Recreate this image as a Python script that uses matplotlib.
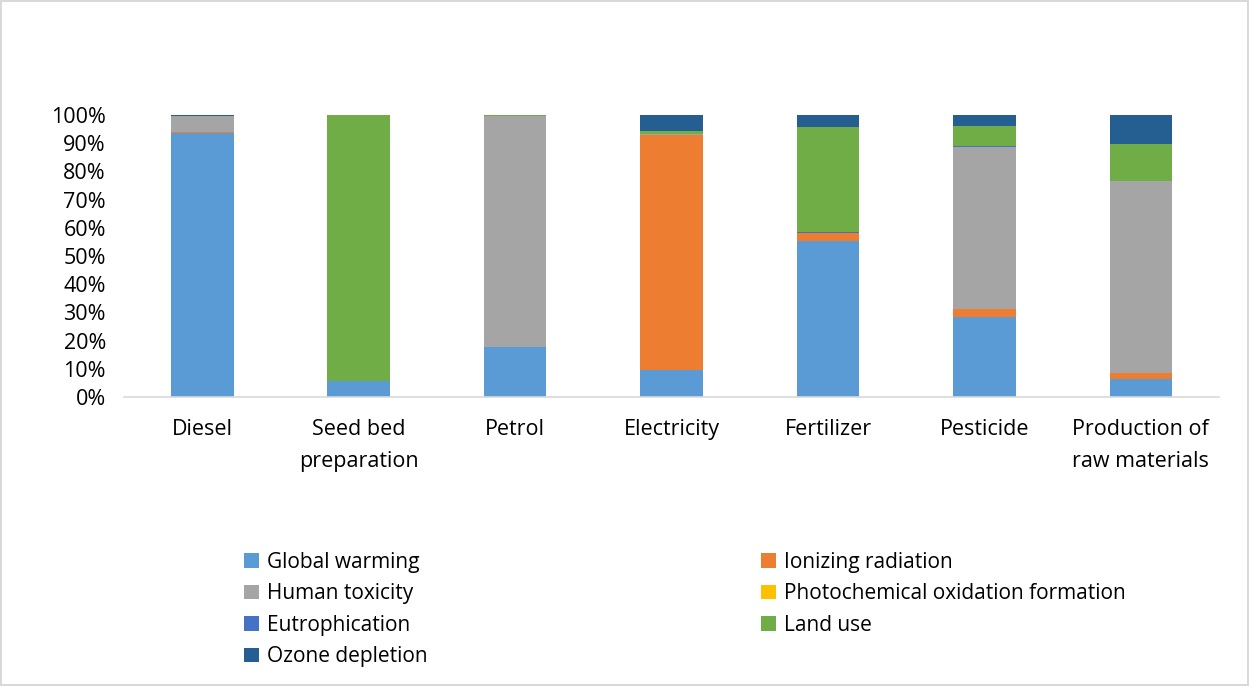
import matplotlib.pyplot as plt
import numpy as np

plt.rcParams['font.family'] = ['Open Sans', 'DejaVu Sans']

# Categories and the share (%) of each impact category
categories = ['Diesel', 'Seed bed\npreparation', 'Petrol', 'Electricity',
              'Fertilizer', 'Pesticide', 'Production of\nraw materials']

global_warming = [93.5, 5.8, 17.8, 9.5, 55.3, 28.5, 6.3]
ionizing_radiation = [0.6, 0.0, 0.0, 83.4, 2.7, 2.6, 2.1]
human_toxicity = [5.6, 0.0, 82.0, 0.4, 0.0, 57.6, 68.2]
photochemical = [0.0, 0.0, 0.0, 0.0, 0.0, 0.0, 0.0]
eutrophication = [0.0, 0.0, 0.0, 0.0, 0.5, 0.2, 0.0]
land_use = [0.0, 94.2, 0.2, 1.0, 37.2, 7.3, 13.2]
ozone_depletion = [0.3, 0.0, 0.0, 5.7, 4.3, 3.8, 10.2]

series = [
    ('Global warming', global_warming, '#5B9BD5'),
    ('Ionizing radiation', ionizing_radiation, '#ED7D31'),
    ('Human toxicity', human_toxicity, '#A5A5A5'),
    ('Photochemical oxidation formation', photochemical, '#FFC000'),
    ('Eutrophication', eutrophication, '#4472C4'),
    ('Land use', land_use, '#70AD47'),
    ('Ozone depletion', ozone_depletion, '#255E91'),
]

fig = plt.figure(figsize=(12.49, 6.86), dpi=100)
fig.patch.set_edgecolor('#D9D9D9')
fig.patch.set_linewidth(1.5)
ax = fig.add_axes([0.0993, 0.4213, 0.8767, 0.4111])

x = np.arange(len(categories))
bottom = np.zeros(len(categories))
handles = {}
for name, vals, color in series:
    vals = np.array(vals) / 100.0
    b = ax.bar(x, vals, width=0.4, bottom=bottom, color=color,
               linewidth=0, label=name)
    handles[name] = b
    bottom += vals

ax.set_xlim(-0.5, len(categories) - 0.5)
ax.set_ylim(0, 1)
ax.set_yticks(np.arange(0, 1.01, 0.1))
ax.set_yticklabels([f'{int(round(v * 100))}%' for v in np.arange(0, 1.01, 0.1)])
ax.set_xticks(x)
ax.set_xticklabels(categories, linespacing=1.7)
ax.tick_params(axis='both', length=0, labelsize=15.5, colors='#000000')
ax.tick_params(axis='x', pad=16)
ax.tick_params(axis='y', pad=13)

for s in ['top', 'right', 'left']:
    ax.spines[s].set_visible(False)
ax.spines['bottom'].set_color('#D9D9D9')
ax.spines['bottom'].set_linewidth(1.2)

# Legend: two columns, filled row by row
order = ['Global warming', 'Human toxicity', 'Eutrophication', 'Ozone depletion',
         'Ionizing radiation', 'Photochemical oxidation formation', 'Land use']
fig.legend([handles[n] for n in order], order, ncol=2, loc='upper left',
           bbox_to_anchor=(0.1955, 0.196), frameon=False, fontsize=15,
           handlelength=0.7, handleheight=0.7, handletextpad=0.4,
           columnspacing=16.0, labelspacing=0.51, borderaxespad=0, borderpad=0)

fig.savefig('out.png', dpi=100)
